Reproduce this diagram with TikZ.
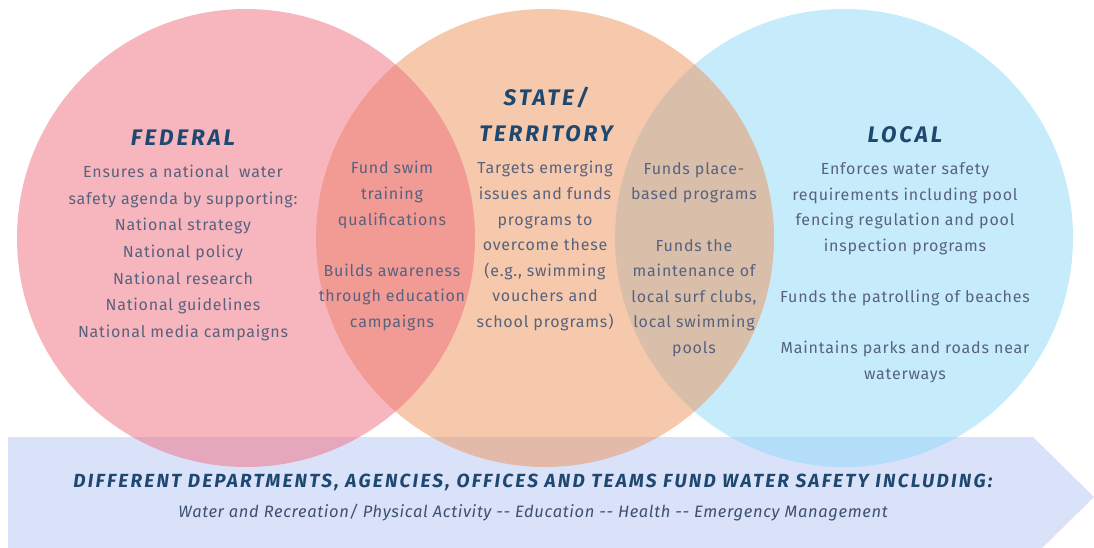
\documentclass[tikz,border=0pt]{standalone}
\usepackage{fontspec}
\setmainfont{Fira Sans}
\newfontfamily\headfont[LetterSpace=13]{Fira Sans}
\newfontfamily\bodyfont[LetterSpace=5]{Fira Sans}
\newfontfamily\bannerfont[LetterSpace=12]{Fira Sans}
\newfontfamily\areafont[LetterSpace=4]{Fira Sans}

\definecolor{fedpink}{RGB}{239,109,125}
\definecolor{statepeach}{RGB}{237,147,89}
\definecolor{localblue}{RGB}{141,217,249}
\definecolor{bandblue}{RGB}{218,226,250}
\definecolor{headblue}{RGB}{30,72,112}
\definecolor{bodygrey}{RGB}{88,98,126}
\definecolor{areagrey}{RGB}{62,80,110}

\begin{document}
\begin{tikzpicture}[x=1pt, y=-1pt,
  circ/.style={circle, minimum size=458pt, inner sep=0pt, fill opacity=0.5},
  head/.style={font=\headfont\fontsize{22.5}{36}\selectfont\bfseries\itshape, text=headblue, anchor=base, align=center},
  body/.style={font=\bodyfont\fontsize{16}{25.6}\selectfont, text=bodygrey, anchor=base, align=center}]
\path[use as bounding box, clip] (0,0) rectangle (1094,547);
\fill[bandblue] (8,437) -- (1033,437) -- (1094,497) -- (1033,557) -- (8,557) -- cycle;

\node[circ, fill=localblue] (local) at (844,238) {};
\node[circ, fill=statepeach] (state) at (545,238) {};
\node[circ, fill=fedpink] (federal) at (246,238) {};

% multi-line nodes sit on the baseline of their last line
\node[head] (fedhead) at (183,145) {FEDERAL};
\node[body, font=\bodyfont\fontsize{16}{26.7}\selectfont] (fedtext) at (183,337.5)
  {Ensures a national\ \ water\\safety agenda by supporting:\\National strategy\\National policy\\National research\\National guidelines\\National media campaigns};
\node[body] (fedstate) at (392,327.5)
  {Fund swim\\training\\qualifications\\[25.6pt]Builds awareness\\through education\\campaigns};
\node[head] (statehead) at (546,141) {STATE/\\TERRITORY};
\node[body] (statetext) at (545,327.5)
  {Targets emerging\\issues and funds\\programs to\\overcome these\\(e.g., swimming\\vouchers and\\school programs)};
\node[body] (statelocal) at (694,353.5)
  {Funds place-\\based programs\\[25.6pt]Funds the\\maintenance of\\local surf clubs,\\local swimming\\pools};
\node[head] (localhead) at (905,142) {LOCAL};
\node[body] (localtext) at (905,379.5)
  {Enforces water safety\\requirements including pool\\fencing regulation and pool\\inspection programs\\[25.6pt]Funds the patrolling of beaches\\[25.6pt]Maintains parks and roads near\\waterways};

\node[anchor=base, text=headblue, font=\bannerfont\fontsize{19}{20}\selectfont\bfseries\itshape] (banner) at (533,487)
  {DIFFERENT DEPARTMENTS, AGENCIES, OFFICES AND TEAMS FUND WATER SAFETY INCLUDING:};
\node[anchor=base, text=areagrey, font=\areafont\fontsize{16.5}{18}\selectfont\itshape] (areas) at (533,517)
  {Water and Recreation/ Physical Activity -{}- Education -{}- Health -{}- Emergency Management};
\end{tikzpicture}
\end{document}
